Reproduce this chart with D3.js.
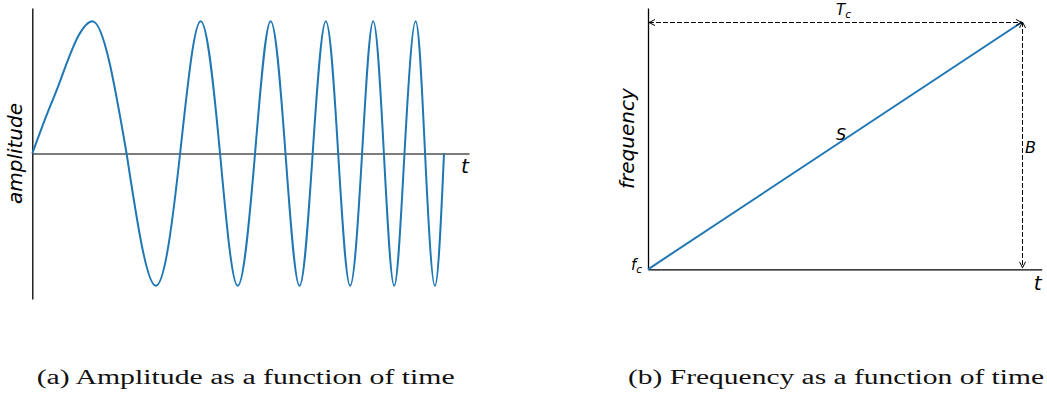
<!DOCTYPE html>
<html>
<head>
<meta charset="utf-8">
<script src="https://cdn.jsdelivr.net/npm/d3@7"></script>
<style>
  body { margin: 0; background: #fff; }
  svg { display: block; }
</style>
</head>
<body>
<div id="chart"></div>
<script>
'use strict';

// (a) chirp: time as fraction of the chirp duration, amplitude at the points
const chirpTime = [0, 0.031, 0.063, 0.087, 0.112, 0.146, 0.229, 0.300, 0.359, 0.409, 0.456, 0.499,
  0.541, 0.579, 0.615, 0.649, 0.681, 0.713, 0.743, 0.772, 0.801, 0.828, 0.854, 0.879,
  0.904, 0.931, 0.954, 0.978, 1.0];
const chirpAmp = [0, 0.26, 0.51, 0.71, 0.89, 1, 0, -1, 0, 1, 0, -1,
  0, 1, 0, -1, 0, 1, 0, -1, 0, 1, 0, -1,
  0, 1, 0, -1, 0];
// index of the first zero crossing: the slow first lobe ends here
const firstZero = 6;

// (b) linear frequency ramp: time as fraction of Tc, frequency above fc as fraction of B
const rampTime = [0, 1];
const rampFreq = [0, 1];

const axisLabels = ['amplitude', 'frequency'];
const captions = ['(a) Amplitude as a function of time', '(b) Frequency as a function of time'];

const width = 1047;
const height = 394;
const blue = '#1f77b4';
const sans = 'DejaVu Sans, sans-serif';
const crisp = v => Math.round(v) + 0.5;

const svg = d3.select('#chart')
  .append('svg')
  .attr('width', width)
  .attr('height', height)
  .attr('viewBox', `0 0 ${width} ${height}`);

svg.append('rect').attr('width', width).attr('height', height).attr('fill', '#fff');

const defs = svg.append('defs');
defs.append('marker')
  .attr('id', 'head')
  .attr('markerUnits', 'userSpaceOnUse')
  .attr('viewBox', '-7 -4 8 8')
  .attr('refX', 0)
  .attr('refY', 0)
  .attr('markerWidth', 8)
  .attr('markerHeight', 8)
  .attr('orient', 'auto-start-reverse')
  .append('path')
  .attr('d', 'M-6,-3L0,0L-6,3')
  .attr('fill', 'none')
  .attr('stroke', '#000')
  .attr('stroke-width', 1);

// ---------- panel (a) ----------
const xA = d3.scaleLinear().domain([0, 1.0607]).range([32.3, 469]);
const yA = d3.scaleLinear().domain([-1.1, 1.1]).range([299, 8]);

const gA = svg.append('g');

gA.append('g')
  .attr('transform', `translate(${xA(0)},0)`)
  .call(d3.axisLeft(yA).tickValues([]).tickSizeOuter(0))
  .select('.domain')
  .attr('stroke', '#000')
  .attr('stroke-width', 1.3);

gA.append('g')
  .attr('transform', `translate(0,${yA(0)})`)
  .call(d3.axisBottom(xA).tickValues([]).tickSizeOuter(0))
  .select('.domain')
  .attr('stroke', '#505050')
  .attr('stroke-width', 1.6);

const chirp = chirpTime.map((t, i) => ({ t: t, a: chirpAmp[i] }));

// first lobe with a monotone curve, the regular oscillation with a natural spline
const pieces = [
  { pts: chirp.slice(0, firstZero + 1), curve: d3.curveMonotoneX },
  { pts: chirp.slice(firstZero), curve: d3.curveNatural }
];

gA.selectAll('.chirp')
  .data(pieces)
  .enter()
  .append('path')
  .attr('class', 'chirp')
  .attr('fill', 'none')
  .attr('stroke', blue)
  .attr('stroke-width', 2)
  .attr('stroke-linejoin', 'round')
  .attr('d', p => d3.line()
    .x(d => xA(d.t))
    .y(d => yA(d.a))
    .curve(p.curve)(p.pts));

gA.append('text')
  .attr('transform', `translate(22,${(yA.range()[0] + yA.range()[1]) / 2}) rotate(-90)`)
  .attr('text-anchor', 'middle')
  .attr('font-family', sans)
  .attr('font-style', 'italic')
  .attr('font-size', 20)
  .text(axisLabels[0]);

gA.append('text')
  .attr('x', xA.range()[1] - 8)
  .attr('y', yA(0) + 19)
  .attr('font-family', sans)
  .attr('font-style', 'italic')
  .attr('font-size', 20)
  .text('t');

// ---------- panel (b) ----------
const xB = d3.scaleLinear().domain([0, 1.0527]).range([648, 1041.7]);
const yB = d3.scaleLinear().domain([0, 1.0566]).range([269.3, 8]);

const gB = svg.append('g');

gB.append('g')
  .attr('transform', `translate(${xB(0)},0)`)
  .call(d3.axisLeft(yB).tickValues([]).tickSizeOuter(0))
  .select('.domain')
  .attr('stroke', '#000')
  .attr('stroke-width', 1.3);

gB.append('g')
  .attr('transform', `translate(0,${yB(0)})`)
  .call(d3.axisBottom(xB).tickValues([]).tickSizeOuter(0))
  .select('.domain')
  .attr('stroke', '#000')
  .attr('stroke-width', 1.3);

const ramp = rampTime.map((t, i) => ({ t: t, f: rampFreq[i] }));
const tc = d3.max(rampTime);
const bw = d3.max(rampFreq);

gB.append('path')
  .datum(ramp)
  .attr('fill', 'none')
  .attr('stroke', blue)
  .attr('stroke-width', 2)
  .attr('d', d3.line().x(d => xB(d.t)).y(d => yB(d.f)));

// dashed double arrows for Tc (horizontal) and B (vertical)
gB.append('line')
  .attr('x1', xB(0) + 1)
  .attr('x2', xB(tc))
  .attr('y1', crisp(yB(bw)))
  .attr('y2', crisp(yB(bw)))
  .attr('stroke', '#000')
  .attr('stroke-width', 1)
  .attr('stroke-dasharray', '4.9,2.1')
  .attr('marker-start', 'url(#head)')
  .attr('marker-end', 'url(#head)');

gB.append('line')
  .attr('x1', crisp(xB(tc)))
  .attr('x2', crisp(xB(tc)))
  .attr('y1', yB(bw))
  .attr('y2', yB(0) - 1.5)
  .attr('stroke', '#000')
  .attr('stroke-width', 1)
  .attr('stroke-dasharray', '4.9,2.1')
  .attr('marker-start', 'url(#head)')
  .attr('marker-end', 'url(#head)');

function mathLabel(g, x, y, main, sub, anchor, size) {
  const txt = g.append('text')
    .attr('x', x)
    .attr('y', y)
    .attr('text-anchor', anchor || 'start')
    .attr('font-family', sans)
    .attr('font-style', 'italic')
    .attr('font-size', size || 15);
  txt.append('tspan').text(main);
  if (sub) {
    txt.append('tspan').attr('font-size', '0.7em').attr('dy', 3).text(sub);
  }
  return txt;
}

mathLabel(gB, xB(tc / 2) + 1, yB(bw) - 7, 'T', 'c');
mathLabel(gB, xB(0) - 6, yB(0) + 1, 'f', 'c', 'end');
mathLabel(gB, xB(tc / 2) + 1, yB(bw / 2) - 6, 'S', null, 'start', 16);
mathLabel(gB, xB(tc) + 3, yB(bw / 2) + 7, 'B', null, 'start', 16);

gB.append('text')
  .attr('transform', `translate(634,${(yB.range()[0] + yB.range()[1]) / 2}) rotate(-90)`)
  .attr('text-anchor', 'middle')
  .attr('font-family', sans)
  .attr('font-style', 'italic')
  .attr('font-size', 20)
  .text(axisLabels[1]);

gB.append('text')
  .attr('x', xB.range()[1] - 8)
  .attr('y', yB(0) + 21)
  .attr('font-family', sans)
  .attr('font-style', 'italic')
  .attr('font-size', 20)
  .text('t');

// ---------- captions ----------
const captionPos = [{ x: 36.7, w: 418 }, { x: 628, w: 416 }];
svg.selectAll('.caption')
  .data(captions)
  .enter()
  .append('text')
  .attr('class', 'caption')
  .attr('x', (d, i) => captionPos[i].x)
  .attr('y', 383.5)
  .attr('font-family', 'Liberation Serif, serif')
  .attr('font-size', 20)
  .attr('textLength', (d, i) => captionPos[i].w)
  .attr('lengthAdjust', 'spacingAndGlyphs')
  .attr('fill', '#111')
  .text(d => d);
</script>
</body>
</html>
